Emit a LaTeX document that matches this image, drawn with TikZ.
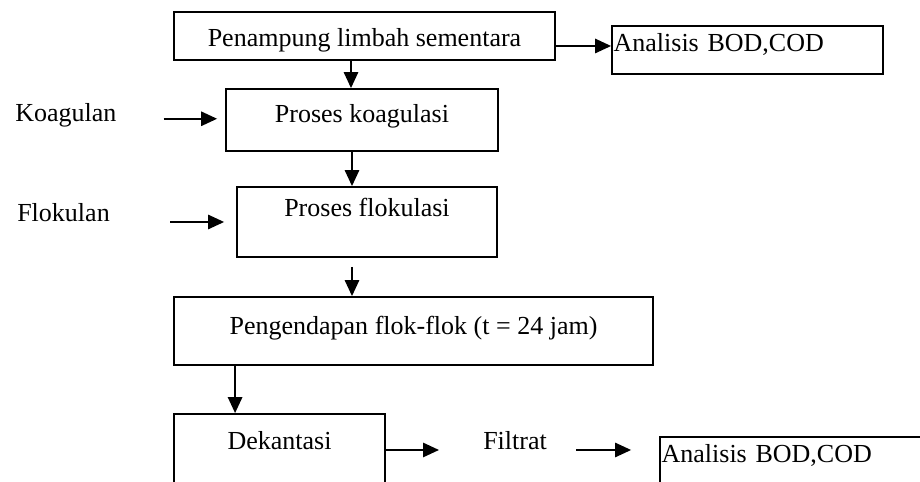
\documentclass[tikz,border=0pt]{standalone}
\usepackage{fontspec}
\setmainfont{Liberation Serif}
\usetikzlibrary{arrows.meta,calc}

\begin{document}
\begin{tikzpicture}[
	kotak/.style={draw,line width=1.3pt,inner sep=0.04cm},
	teks/.style={inner sep=0pt},
	panah/.style={line width=1.2pt,-{Triangle[length=0.4cm,width=0.36cm]}},
	font=\fontsize{18.5}{22}\selectfont]
	\clip (0,0) rectangle (23,12.05);
	\node[kotak,minimum width=9.525cm,minimum height=1.2cm,text height=0.65cm,text depth=0.1cm]
		(PL) at (9.1125,11.15) {Penampung limbah sementara};
	\node[kotak,text width=6.695cm,align=left,minimum height=1.2cm,text height=0.45cm,text depth=0.35cm]
		(A1) at (18.6875,10.8) {Analisis BOD,COD};
	\node[kotak,minimum width=6.8cm,minimum height=1.55cm,text height=0.45cm,text depth=0.3cm]
		(PK) at (9.05,9.05) {Proses koagulasi};
	\node[kotak,minimum width=6.5cm,minimum height=1.75cm,text height=0.2cm,text depth=0.45cm]
		(PF) at (9.175,6.5) {Proses flokulasi};
	\node[kotak,minimum width=11.975cm,minimum height=1.7cm,text height=0.5cm,text depth=0.3cm]
		(PE) at (10.3375,3.775) {Pengendapan flok-flok (t = 24 jam)};
	\node[kotak,minimum width=5.275cm,minimum height=2.5cm,text height=0.3cm,text depth=1cm]
		(DK) at (6.9875,0.45) {Dekantasi};
	\node[kotak,text width=7.92cm,align=left,minimum height=2cm,text height=0.3cm,text depth=1cm]
		(A2) at (20.5,0.125) {Analisis BOD,COD};
	\node[teks,anchor=base west] (KG) at (0.375,9.0) {Koagulan};
	\node[teks,anchor=base west] (FL) at (0.425,6.5) {Flokulan};
	\node[teks,anchor=base west] (FT) at (12.075,0.8) {Filtrat};
	% aliran utama
	\draw[panah] ([yshift=-0.25cm]PL.east) -- ([yshift=-0.25cm]PL.east -| A1.west);
	\draw[panah] ([xshift=-0.3375cm]PL.south) -- ([xshift=-0.3375cm]PL.south |- PK.north);
	\draw[panah] ([xshift=-0.25cm]PK.south) -- ([xshift=-0.25cm]PK.south |- PF.north);
	\draw[panah] ([xshift=-0.375cm,yshift=-0.225cm]PF.south) -- ([xshift=-0.375cm]PF.south |- PE.north);
	\draw[panah] ([xshift=1.55cm]PE.south west) -- ([xshift=1.55cm]PE.south west |- DK.north);
	% bahan masuk
	\draw[panah] ([xshift=1.175cm]KG.mid east) -- ([xshift=-0.2cm]PK.west |- KG.mid east);
	\draw[panah] ([xshift=1.5cm]FL.base east) -- ([xshift=-0.3cm]PF.west |- FL.base east);
	% hasil
	\draw[panah] (DK.east |- FT.base west) -- ([xshift=-1.1cm]FT.base west);
	\draw[panah] ([xshift=0.725cm]FT.base east) -- ([xshift=-0.7cm]A2.west |- FT.base east);
\end{tikzpicture}
\end{document}
